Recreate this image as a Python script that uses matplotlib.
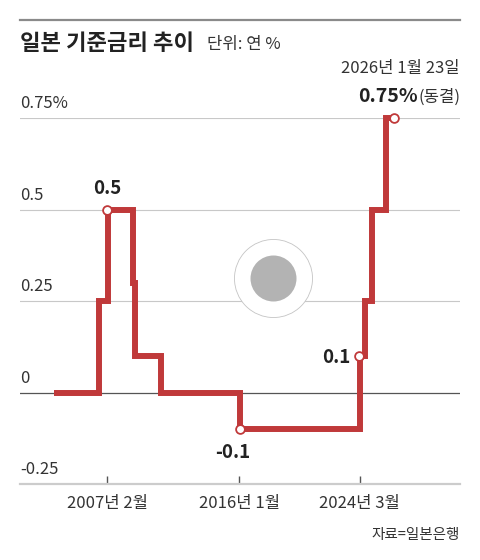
import matplotlib
matplotlib.use("Agg")
import matplotlib.pyplot as plt
from matplotlib.lines import Line2D

plt.rcParams['font.family'] = ['Noto Sans CJK KR', 'DejaVu Sans']

# step changes of the policy rate (decimal years)
change_dates = [2003.5, 2006.54, 2007.14, 2008.83, 2008.97, 2010.76,
                2016.12, 2024.21, 2024.58, 2025.07, 2025.97, 2026.5]
rates = [0, 0.25, 0.5, 0.3, 0.1, 0, -0.1, 0.1, 0.25, 0.5, 0.75, 0.75]

# highlighted points
mark_dates = [2007.1, 2016.08, 2024.18, 2026.5]
mark_rates = [0.5, -0.1, 0.1, 0.75]
mark_labels = ['0.5', '-0.1', '0.1', None]
mark_offsets = [(0, 15), (-5, -16.5), (-16.5, -1.5), None]

y_ticks = [-0.25, 0, 0.25, 0.5, 0.75]
y_labels = ['-0.25', '0', '0.25', '0.5', '0.75%']

x_ticks = [2007.1, 2016.05, 2024.2]
x_labels = ['2007년 2월', '2016년 1월', '2024년 3월']

RED = '#c0393a'
W, H = 480, 560

fig = plt.figure(figsize=(W / 100, H / 100), dpi=100)
ax = fig.add_axes([20 / W, 76 / H, 440 / W, 366 / H])
ax.set_xlim(2001.2, 2031.0)
ax.set_ylim(-0.25, 0.75)

# grid lines
for v in y_ticks[2:]:
    ax.axhline(v, color='#c8c8c8', lw=0.8, zorder=1)
ax.axhline(0, color='#555555', lw=0.9, zorder=1)

# decorative circle
ax.scatter([2018.36], [0.312], s=3158, facecolor='white', edgecolor='#c4c4c4',
           lw=0.6, zorder=2)
ax.scatter([2018.36], [0.312], s=1097, color='#b3b3b3', lw=0, zorder=3)

# rate line
ax.step(change_dates, rates, where='post', color=RED, lw=4.3,
        solid_joinstyle='miter', solid_capstyle='butt', zorder=4, clip_on=False)
ax.scatter(mark_dates, mark_rates, s=40, facecolor='white', edgecolor=RED,
           lw=1.3, zorder=5, clip_on=False)

for d, r, lab, off in zip(mark_dates, mark_rates, mark_labels, mark_offsets):
    if lab is None:
        continue
    ax.annotate(lab, (d, r), xytext=off, textcoords='offset points',
                ha='center', va='center', fontsize=13.5, fontweight='bold',
                color='#222222')

# y labels sit above their lines
for v, lab in zip(y_ticks, y_labels):
    ax.annotate(lab, (0, v), xycoords=ax.get_yaxis_transform(),
                xytext=(0, 4), textcoords='offset points',
                ha='left', va='bottom', fontsize=12, color='#333333')

for s in ['top', 'right', 'left']:
    ax.spines[s].set_visible(False)
ax.spines['bottom'].set_color('#cccccc')
ax.spines['bottom'].set_linewidth(1.6)
ax.set_yticks([])
ax.set_xticks(x_ticks)
ax.set_xticklabels(x_labels, fontsize=12, color='#333333')
ax.tick_params(axis='x', direction='in', length=6, width=1, color='#555555', pad=8)

# header
fig.add_artist(Line2D([20 / W, 460 / W], [1 - 20 / H, 1 - 20 / H],
                      color='#8a8a8a', lw=1.6))
fig.text(20 / W, 1 - 44 / H, '일본 기준금리 추이', fontsize=16, fontweight='bold',
         color='#222222', va='center', ha='left')
fig.text(207 / W, 1 - 45 / H, '단위: 연 %', fontsize=12, color='#333333',
         va='center', ha='left')
fig.text(460 / W, 1 - 68 / H, '2026년 1월 23일', fontsize=12, color='#333333',
         va='center', ha='right')
t1 = fig.text(460 / W, 1 - 97 / H, '(동결)', fontsize=12, color='#333333',
              va='center', ha='right')
fig.canvas.draw()
w1 = t1.get_window_extent(fig.canvas.get_renderer()).width
fig.text((460 - w1) / W, 1 - 96 / H, '0.75%', fontsize=14, fontweight='bold',
         color='#222222', va='center', ha='right')

fig.text(460 / W, 1 - 535 / H, '자료=일본은행', fontsize=10.5, color='#333333',
         va='center', ha='right')

fig.savefig('out.png', dpi=100, facecolor='white')
